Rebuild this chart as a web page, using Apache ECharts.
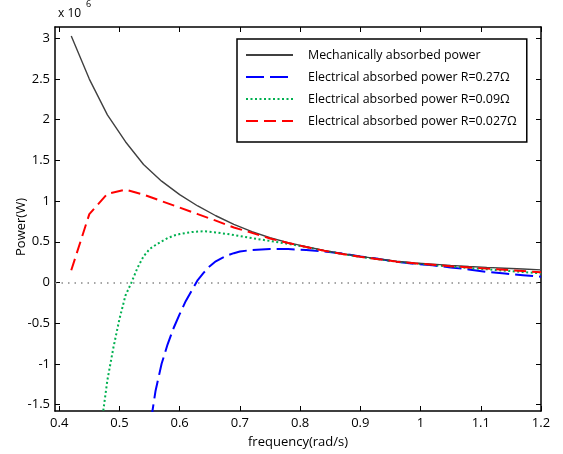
<!DOCTYPE html>
<html>
<head>
<meta charset="utf-8">
<script src="https://cdn.jsdelivr.net/npm/echarts@6/dist/echarts.min.js"></script>
<style>html,body{margin:0;padding:0;background:#fff}#c{width:563px;height:454px}</style>
</head>
<body>
<div id="c"></div>
<script>
// ---- data (power in units of 1e6 W) ----
var freqMech = [0.42,0.45,0.48,0.51,0.54,0.57,0.60,0.63,0.66,0.69,0.72,0.75,0.78,0.81,0.84,0.87,0.90,0.93,0.96,0.99,1.02,1.05,1.08,1.11,1.14,1.17,1.20];
var powerMech = [3.03,2.50,2.06,1.73,1.45,1.245,1.08,0.94,0.82,0.715,0.625,0.55,0.49,0.44,0.395,0.355,0.32,0.29,0.262,0.24,0.225,0.21,0.196,0.185,0.175,0.165,0.155];

var freqR0027 = [0.42,0.45,0.48,0.51,0.54,0.57,0.60,0.63,0.66,0.69,0.72,0.75,0.78,0.81,0.84,0.87,0.90,0.93,0.96,0.99,1.02,1.05,1.08,1.11,1.14,1.17,1.20];
var powerR0027 = [0.15,0.84,1.09,1.14,1.08,1.00,0.92,0.84,0.76,0.675,0.61,0.54,0.485,0.435,0.39,0.35,0.315,0.285,0.256,0.235,0.218,0.20,0.185,0.17,0.155,0.14,0.125];

var freqR009 = [0.46,0.47,0.48,0.49,0.50,0.51,0.52,0.53,0.54,0.55,0.56,0.57,0.58,0.59,0.60,0.62,0.64,0.66,0.68,0.70,0.72,0.75,0.78,0.81,0.84,0.87,0.90,0.93,0.96,0.99,1.02,1.05,1.08,1.11,1.14,1.17,1.20];
var powerR009 = [-2.9,-1.75,-1.20,-0.80,-0.45,-0.16,0.0,0.18,0.32,0.41,0.46,0.505,0.545,0.575,0.595,0.62,0.63,0.615,0.595,0.57,0.545,0.51,0.475,0.435,0.39,0.35,0.315,0.285,0.255,0.233,0.215,0.195,0.178,0.162,0.145,0.128,0.112];

var freqR027 = [0.54,0.55,0.56,0.57,0.58,0.59,0.60,0.61,0.62,0.63,0.64,0.65,0.66,0.67,0.68,0.69,0.70,0.72,0.75,0.78,0.81,0.84,0.87,0.90,0.93,0.96,0.99,1.02,1.05,1.08,1.11,1.14,1.17,1.20];
var powerR027 = [-2.3,-1.81,-1.33,-1.00,-0.76,-0.56,-0.39,-0.23,-0.10,0.03,0.12,0.20,0.26,0.30,0.335,0.36,0.38,0.40,0.41,0.41,0.40,0.38,0.355,0.32,0.29,0.255,0.23,0.21,0.185,0.16,0.13,0.11,0.09,0.07];

var xTicks = [0.4,0.5,0.6,0.7,0.8,0.9,1.0,1.1,1.2];
var yTicks = [-1.5,-1,-0.5,0,0.5,1,1.5,2,2.5,3];

var seriesNames = ['Mechanically absorbed power','Electrical absorbed power R=0.27\u03A9','Electrical absorbed power R=0.09\u03A9','Electrical absorbed power R=0.027\u03A9'];

function pairs(xs, ys){ return xs.map(function(x,i){ return [x, ys[i]]; }); }

var FONT = 'Open Sans';
var FS = 13;
var X_MIN = 0.393, X_MAX = 1.2, Y_MIN = -1.58, Y_MAX = 3.14;

var chart = echarts.init(document.getElementById('c'), null, {renderer:'canvas'});

function xAx(pos, show){
  return {
    type:'value', position:pos, min:X_MIN, max:X_MAX,
    axisLine:{show:true, onZero:false, lineStyle:{color:'#000', width:1.5}},
    axisTick:{show:true, inside:true, length:5, customValues:xTicks, lineStyle:{color:'#000', width:1}},
    axisLabel:{show:show, customValues:xTicks, color:'#000', fontFamily:FONT, fontSize:FS, margin:6},
    splitLine:{show:false}
  };
}
function yAx(pos, show){
  return {
    type:'value', position:pos, min:Y_MIN, max:Y_MAX,
    axisLine:{show:true, onZero:false, lineStyle:{color:'#000', width:1.5}},
    axisTick:{show:true, inside:true, length:5, customValues:yTicks, lineStyle:{color:'#000', width:1}},
    axisLabel:{show:show, customValues:yTicks, color:'#000', fontFamily:FONT, fontSize:FS, margin:5},
    splitLine:{show:false}
  };
}

var xa = xAx('bottom', true);
xa.name = 'frequency(rad/s)';
xa.nameLocation = 'middle';
xa.nameGap = 25;
xa.nameTextStyle = {color:'#000', fontFamily:FONT, fontSize:FS};

chart.setOption({
  animation:false,
  backgroundColor:'#fff',
  grid:{left:55, right:22, top:27, bottom:43, containLabel:false},
  xAxis:[xa, xAx('top', false)],
  yAxis:[yAx('left', true), yAx('right', false)],
  legend:{
    show:true,
    orient:'vertical', left:237, top:39,
    backgroundColor:'#fff', borderColor:'#000', borderWidth:1.5,
    padding:[10,10,15,8], itemWidth:47, itemHeight:14, itemGap:10,
    itemStyle:{opacity:0},
    textStyle:{color:'#000', fontFamily:FONT, fontSize:12.4, padding:[0,0,0,10]},
    data:seriesNames
  },
  graphic:[
    {type:'text', left:58, top:8, style:{text:'x 10', fontFamily:FONT, fontSize:12, fill:'#000'}},
    {type:'text', left:86, top:0, style:{text:'6', fontFamily:FONT, fontSize:9, fill:'#000'}},
    {type:'text', x:21, y:227, rotation:Math.PI/2, style:{text:'Power(W)', fontFamily:FONT, fontSize:FS, fill:'#000', align:'center', verticalAlign:'middle'}}
  ],
  series:[
    {name:seriesNames[0], type:'line', data:pairs(freqMech, powerMech), symbol:'none', smooth:false,
     lineStyle:{color:'#404040', width:1.4}, itemStyle:{color:'#404040'}, z:5,
     markLine:{silent:true, symbol:'none', label:{show:false},
       lineStyle:{color:'#888', type:[1.5,5], width:1.5},
       data:[{yAxis:0}]}},
    {name:seriesNames[1], type:'line', data:pairs(freqR027, powerR027), symbol:'none',
     lineStyle:{color:'#0000ff', width:2, type:[18,6]}, itemStyle:{color:'#0000ff'}, z:4},
    {name:seriesNames[2], type:'line', data:pairs(freqR009, powerR009), symbol:'none',
     lineStyle:{color:'#00b050', width:2, type:[2,2.5]}, itemStyle:{color:'#00b050'}, z:4},
    {name:seriesNames[3], type:'line', data:pairs(freqR0027, powerR0027), symbol:'none',
     lineStyle:{color:'#ff0000', width:2, type:[12,6]}, itemStyle:{color:'#ff0000'}, z:6}
  ]
});
</script>
</body>
</html>
